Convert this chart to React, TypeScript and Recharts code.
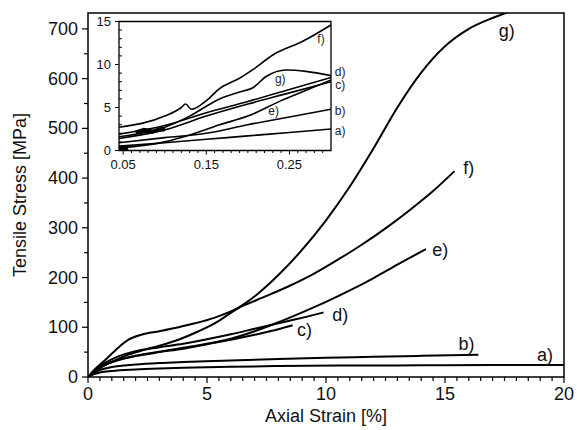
import { LineChart, Line, XAxis, YAxis, ReferenceArea, ReferenceDot } from "recharts";

type Pt = { x: number; y: number };
const toPts = (arr: number[][]): Pt[] => arr.map(([x, y]) => ({ x, y }));

const FONT = '"Liberation Sans", Arial, Helvetica, sans-serif';

// main plot: axial strain [%] vs tensile stress [MPa]
const curveA = [[0, 0], [0.2, 5], [0.5, 9], [1, 12], [2, 15], [3, 17], [4, 18.5], [6, 20.5], [8, 22], [11, 23], [14, 23.5], [17, 24], [20, 24]];
const curveB = [[0, 0], [0.2, 7], [0.5, 14], [1, 20], [2, 25], [3, 28], [4, 30], [6, 33], [8, 36], [10, 38.5], [12, 40.5], [14, 42.5], [16.4, 44.5]];
const curveC = [[0, 0], [0.3, 12], [0.7, 24], [1.2, 33], [2, 42], [3, 50], [4, 57], [5, 66], [6, 75], [7, 85], [8, 96], [8.6, 104]];
const curveD = [[0, 0], [0.3, 14], [0.7, 28], [1.2, 40], [2, 52], [3, 60], [4, 67], [5, 76], [6, 86], [7, 97], [8, 108], [9, 119], [9.9, 130]];
const curveE = [[0, 0], [0.3, 12], [0.7, 24], [1.2, 33], [2, 43], [3, 51], [4, 59], [5, 67], [6, 77], [7, 92], [8, 110], [9, 130], [10, 151], [11, 174], [12, 199], [13, 226], [14.2, 257]];
const curveF = [[0, 0], [0.3, 16], [0.7, 33], [1.27, 59], [1.7, 75], [2.25, 85], [3, 92], [3.8, 100], [4.5, 108], [5.3, 119], [5.9, 130], [6.6, 145], [7.5, 163], [8.5, 184], [9.5, 208], [10.5, 236], [11.5, 266], [12.5, 299], [13.5, 335], [14.5, 374], [15.4, 414]];
const curveG = [[0, 0], [0.3, 12], [0.7, 24], [1.2, 35], [1.7, 45], [2.4, 55], [3, 63], [3.8, 75], [4.6, 91], [5.5, 113], [5.9, 126], [6.6, 148], [7.2, 170], [8, 205], [9, 256], [10, 315], [11, 383], [12, 460], [13, 542], [14, 612], [15, 665], [16, 700], [17, 722], [17.6, 733], [18, 740]];

const mainCurves = [curveA, curveB, curveC, curveD, curveE, curveF, curveG];
const mainLabels = ["a)", "b)", "c)", "d)", "e)", "f)", "g)"];
const mainLabelPos = [[19.2, 46], [15.9, 67], [9.1, 95], [10.6, 125], [14.8, 256], [16.0, 422], [17.6, 697]];

const xMajor = [0, 5, 10, 15, 20];
const yMajor = [0, 100, 200, 300, 400, 500, 600, 700];

// inset: first part of the curves (strain 0.05 - 0.3 %)
const insetA = [[0.045, 0.5], [0.1, 0.9], [0.15, 1.3], [0.2, 1.7], [0.25, 2.1], [0.3, 2.5]];
const insetB = [[0.045, 0.9], [0.1, 1.5], [0.15, 2.0], [0.2, 3.0], [0.25, 3.9], [0.3, 4.8]];
const insetC = [[0.045, 1.4], [0.1, 2.4], [0.15, 4.0], [0.2, 5.4], [0.25, 6.7], [0.3, 8.0]];
const insetD = [[0.045, 1.9], [0.1, 2.9], [0.15, 4.4], [0.2, 5.7], [0.25, 7.1], [0.3, 8.5]];
const insetE = [[0.045, 0.3], [0.1, 1.0], [0.13, 1.8], [0.166, 3.0], [0.2, 4.0], [0.24, 5.8], [0.27, 7.0], [0.3, 8.2]];
const insetF = [[0.045, 2.7], [0.1, 4.0], [0.12, 5.0], [0.125, 5.4], [0.132, 4.8], [0.15, 5.8], [0.166, 7.2], [0.19, 8.4], [0.206, 9.4], [0.23, 11.1], [0.266, 12.7], [0.3, 14.6]];
const insetG = [[0.045, 1.6], [0.1, 2.7], [0.13, 4.0], [0.166, 6.0], [0.19, 6.8], [0.206, 7.3], [0.222, 8.6], [0.246, 9.36], [0.27, 9.2], [0.3, 8.7]];
const insetNoise = [[0.065, 2.1], [0.075, 2.4], [0.085, 2.2], [0.095, 2.5], [0.1, 2.4]];
const insetBlob = [[0.045, 0.3], [0.056, 0.3]];

const insetCurves = [insetA, insetB, insetC, insetD, insetE, insetF, insetG];
const insetLabels = ["a)", "b)", "c)", "d)", "e)", "f)", "g)"];
const insetLabelPos = [[0.311, 2.3], [0.311, 4.6], [0.311, 7.7], [0.311, 9.2], [0.231, 4.6], [0.288, 13.0], [0.239, 8.3]];

const insetXMajor = [0.05, 0.15, 0.25];
const insetYMajor = [0, 5, 10, 15];

const mainXTicks = Array.from({ length: 41 }, (_, i) => i * 0.5);
const mainYTicks = Array.from({ length: 15 }, (_, i) => i * 50);
const insetXTicks = Array.from({ length: 25 }, (_, i) => Math.round((0.05 + i * 0.01) * 100) / 100);
const insetYTicks = Array.from({ length: 16 }, (_, i) => i);

const isMajor = (v: number, list: number[]) => list.some((m) => Math.abs(m - v) < 1e-6);

const MainXTick = ({ x, y, payload }: any) => {
  const major = isMajor(payload.value, xMajor);
  return (
    <g>
      <line x1={x} x2={x} y1={y} y2={y + (major ? 6 : 4)} stroke="#000" strokeWidth={1.2} />
      {major && (
        <text x={x} y={y + 17} textAnchor="middle" dominantBaseline="central" fontSize={18} fontFamily={FONT} fill="#111">
          {payload.value}
        </text>
      )}
    </g>
  );
};

const MainYTick = ({ x, y, payload }: any) => {
  const major = isMajor(payload.value, yMajor);
  return (
    <g>
      <line x1={x} x2={x - (major ? 6 : 4)} y1={y} y2={y} stroke="#000" strokeWidth={1.2} />
      {major && (
        <text x={x - 10} y={y} textAnchor="end" dominantBaseline="central" fontSize={18} fontFamily={FONT} fill="#111">
          {payload.value}
        </text>
      )}
    </g>
  );
};

const InsetXTick = ({ x, y, payload }: any) => {
  const major = isMajor(payload.value, insetXMajor);
  return (
    <g>
      <line x1={x} x2={x} y1={y} y2={y + (major ? 4 : 2.5)} stroke="#000" strokeWidth={1} />
      {major && (
        <text x={x} y={y + 14} textAnchor="middle" dominantBaseline="central" fontSize={13} fontFamily={FONT} fill="#111">
          {payload.value.toFixed(2)}
        </text>
      )}
    </g>
  );
};

const InsetYTick = ({ x, y, payload }: any) => {
  const major = isMajor(payload.value, insetYMajor);
  return (
    <g>
      {major ? (
        <line x1={x} x2={x - 4} y1={y} y2={y} stroke="#000" strokeWidth={1} />
      ) : (
        <line x1={x} x2={x + 3} y1={y} y2={y} stroke="#000" strokeWidth={1} />
      )}
      {major && (
        <text x={x - 8} y={y} textAnchor="end" dominantBaseline="central" fontSize={13} fontFamily={FONT} fill="#111">
          {payload.value}
        </text>
      )}
    </g>
  );
};

function Inset() {
  return (
    <LineChart width={280} height={160} margin={{ top: 6.5, right: 39, left: 0, bottom: 0 }}>
      <XAxis
        type="number"
        dataKey="x"
        domain={[0.045, 0.3]}
        ticks={insetXTicks}
        interval={0}
        tickSize={0}
        tickMargin={0}
        tick={<InsetXTick />}
        axisLine={false}
        height={24.5}
        allowDataOverflow
      />
      <YAxis
        type="number"
        domain={[0, 15]}
        ticks={insetYTicks}
        interval={0}
        tickSize={0}
        tickMargin={0}
        tick={<InsetYTick />}
        axisLine={false}
        width={29}
        allowDataOverflow
      />
      <ReferenceArea x1={0.045} x2={0.3} y1={0} y2={15} fill="#fff" fillOpacity={1} stroke="#000" strokeWidth={1.3} />
      {insetCurves.map((c, i) => (
        <Line
          key={i}
          data={toPts(c)}
          dataKey="y"
          type="monotone"
          stroke="#000"
          strokeWidth={1.6}
          dot={false}
          isAnimationActive={false}
        />
      ))}
      <Line data={toPts(insetNoise)} dataKey="y" type="linear" stroke="#000" strokeWidth={4} dot={false} isAnimationActive={false} />
      <Line data={toPts(insetBlob)} dataKey="y" type="linear" stroke="#000" strokeWidth={5} dot={false} isAnimationActive={false} />
      {insetLabels.map((l, i) => (
        <ReferenceDot
          key={l}
          x={insetLabelPos[i][0]}
          y={insetLabelPos[i][1]}
          r={0}
          fill="none"
          stroke="none"
          ifOverflow="visible"
          label={{ value: l, position: "center", fontSize: 12, fill: "#222", fontFamily: FONT }}
        />
      ))}
    </LineChart>
  );
}

export default function App() {
  return (
    <div style={{ position: "absolute", left: 0, top: 0, width: 577, height: 430, background: "#fff", fontFamily: FONT }}>
      <LineChart width={577} height={430} margin={{ top: 13, right: 13, left: 0, bottom: 0 }}>
        <XAxis
          type="number"
          dataKey="x"
          domain={[0, 20]}
          ticks={mainXTicks}
          interval={0}
          tickSize={0}
          tickMargin={0}
          tick={<MainXTick />}
          axisLine={false}
          height={53}
          allowDataOverflow
          label={{ value: "Axial Strain [%]", position: "center", dy: 12, fontSize: 18, fill: "#111", fontFamily: FONT }}
        />
        <YAxis
          type="number"
          domain={[0, 732]}
          ticks={mainYTicks}
          interval={0}
          tickSize={0}
          tickMargin={0}
          tick={<MainYTick />}
          axisLine={false}
          width={88}
          allowDataOverflow
          label={{ value: "Tensile Stress [MPa]", angle: -90, position: "center", dx: -24, fontSize: 18, fill: "#111", fontFamily: FONT }}
        />
        <ReferenceArea x1={0} x2={20} y1={0} y2={732} fill="none" stroke="#000" strokeWidth={1.5} />
        {mainCurves.map((c, i) => (
          <Line
            key={i}
            data={toPts(c)}
            dataKey="y"
            type="monotone"
            stroke="#000"
            strokeWidth={2}
            dot={false}
            isAnimationActive={false}
          />
        ))}
        {mainLabels.map((l, i) => (
          <ReferenceDot
            key={l}
            x={mainLabelPos[i][0]}
            y={mainLabelPos[i][1]}
            r={0}
            fill="none"
            stroke="none"
            ifOverflow="visible"
            label={{ value: l, position: "center", fontSize: 18, fill: "#111", fontFamily: FONT }}
          />
        ))}
      </LineChart>
      <div style={{ position: "absolute", left: 90, top: 15 }}>
        <Inset />
      </div>
    </div>
  );
}
